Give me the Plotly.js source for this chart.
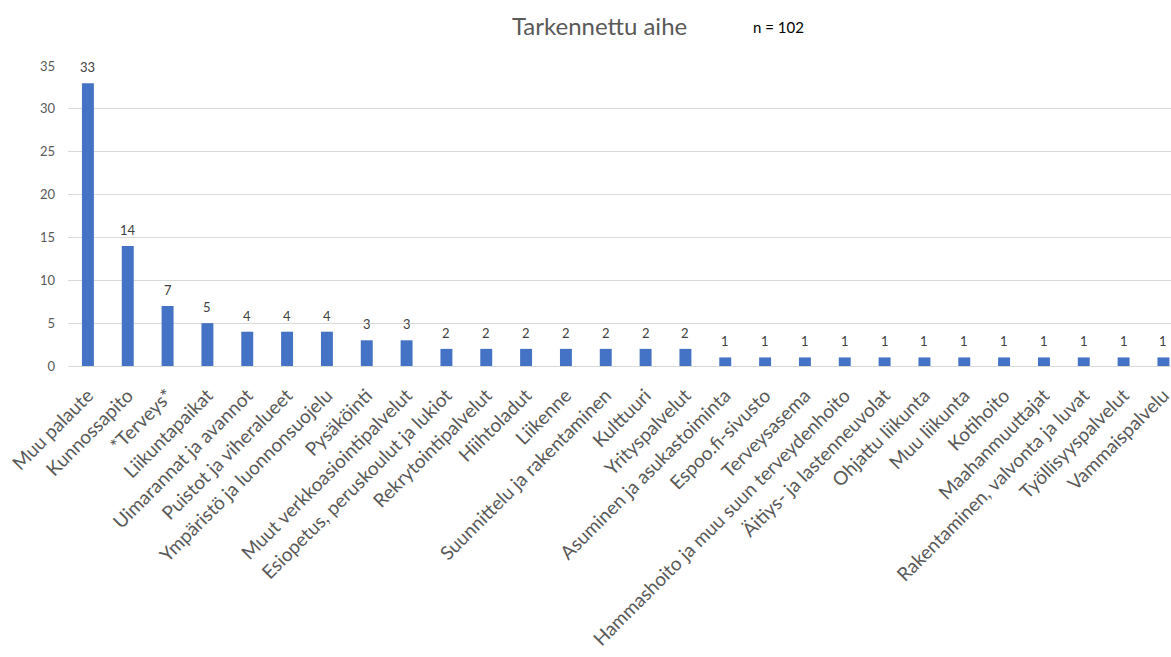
<!DOCTYPE html>
<html>
<head>
<meta charset="utf-8">
<script src="https://cdn.plot.ly/plotly-3.0.1.min.js"></script>
<style>html,body{margin:0;padding:0;background:#fff;}#chart{width:1171px;height:657px;}</style>
</head>
<body>
<div id="chart"></div>
<script>
const categories = [
  "Muu palaute", "Kunnossapito", "*Terveys*", "Liikuntapaikat", "Uimarannat ja avannot",
  "Puistot ja viheralueet", "Ympäristö ja luonnonsuojelu", "Pysäköinti",
  "Muut verkkoasiointipalvelut", "Esiopetus, peruskoulut ja lukiot", "Rekrytointipalvelut",
  "Hiihtoladut", "Liikenne", "Suunnittelu ja rakentaminen", "Kulttuuri", "Yrityspalvelut",
  "Asuminen ja asukastoiminta", "Espoo.fi-sivusto", "Terveysasema",
  "Hammashoito ja muu suun terveydenhoito", "Äitiys- ja lastenneuvolat", "Ohjattu liikunta",
  "Muu liikunta", "Kotihoito", "Maahanmuuttajat", "Rakentaminen, valvonta ja luvat",
  "Työllisyyspalvelut", "Vammaispalvelu"
];
const counts = [33, 14, 7, 5, 4, 4, 4, 3, 3, 2, 2, 2, 2, 2, 2, 2, 1, 1, 1, 1, 1, 1, 1, 1, 1, 1, 1, 1];
const yTicks = [0, 5, 10, 15, 20, 25, 30, 35];
const chartTitle = "Tarkennettu aihe";
const nText = "n = 102";

const FONT = "Lato, 'Open Sans', sans-serif";

const trace = {
  type: "bar",
  x: categories,
  y: counts,
  marker: {color: "#4472C4"},
  hoverinfo: "x+y"
};

const valueLabels = categories.map((c, i) => ({
  x: c, y: counts[i], xref: "x", yref: "y",
  text: String(counts[i]), showarrow: false,
  xanchor: "center", yanchor: "middle", yshift: 16,
  font: {size: 13, color: "#404040", family: FONT}
}));

const layout = {
  width: 1171, height: 657,
  margin: {l: 68, r: 0, t: 66, b: 291},
  paper_bgcolor: "#ffffff", plot_bgcolor: "#ffffff",
  showlegend: false,
  bargap: 0.7,
  font: {family: FONT, color: "#595959"},
  title: {
    text: chartTitle,
    x: 0.512, xanchor: "center", xref: "container",
    y: 0.959, yanchor: "middle", yref: "container",
    font: {size: 24, color: "#595959", family: FONT}
  },
  xaxis: {
    type: "category",
    range: [-0.5, 27.19],
    tickangle: -45,
    tickfont: {size: 19, color: "#595959"},
    showgrid: false, zeroline: false, showline: false,
    ticks: "outside", ticklen: 10, tickcolor: "rgba(0,0,0,0)",
    automargin: false
  },
  yaxis: {
    range: [0, 35],
    tickvals: yTicks,
    ticktext: yTicks.map(String),
    tickfont: {size: 13, color: "#595959"},
    showgrid: true, gridcolor: "#d9d9d9", gridwidth: 1,
    zeroline: true, zerolinecolor: "#d9d9d9", zerolinewidth: 1,
    showline: false, ticks: "", ticklen: 0,
    ticklabelstandoff: 12,
    automargin: false, fixedrange: true
  },
  annotations: [{
    text: nText, xref: "paper", yref: "paper",
    x: 0.644, y: 1.13, xanchor: "center", yanchor: "middle",
    showarrow: false,
    font: {size: 15, color: "#000000", family: FONT}
  }].concat(valueLabels)
};

Plotly.newPlot("chart", [trace], layout, {displayModeBar: false, staticPlot: true});
</script>
</body>
</html>
